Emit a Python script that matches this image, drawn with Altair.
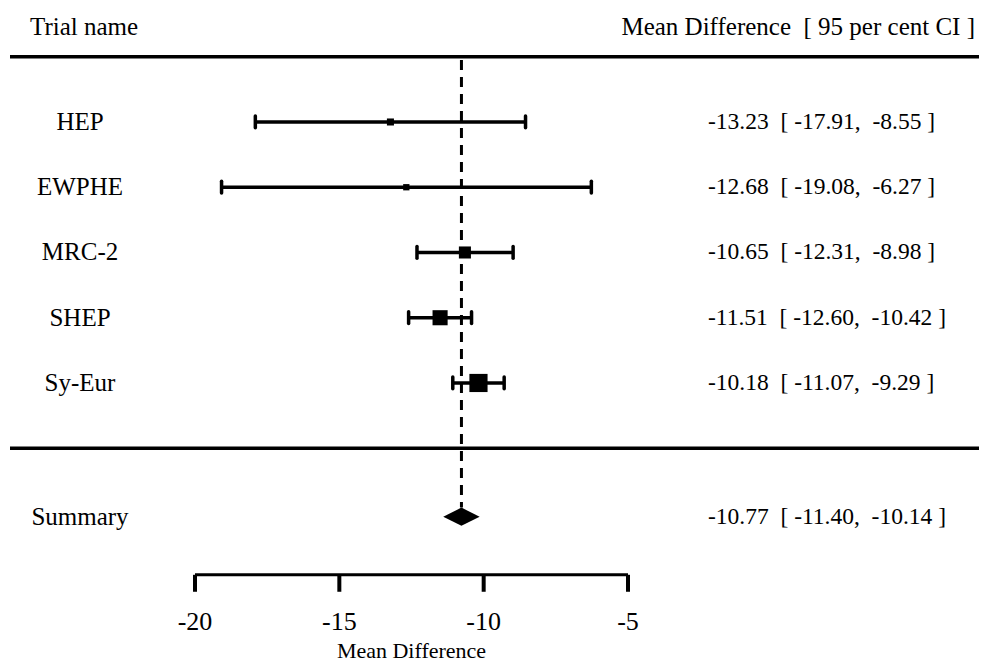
import altair as alt
import pandas as pd

# ---- data ----
trials = ["HEP", "EWPHE", "MRC-2", "SHEP", "Sy-Eur"]
means = [-13.23, -12.68, -10.65, -11.51, -10.18]
lowers = [-17.91, -19.08, -12.31, -12.60, -11.07]
uppers = [-8.55, -6.27, -8.98, -10.42, -9.29]
weights = [0.15, 0.12, 0.44, 0.69, 1.0]   # relative study weight (marker area)

summary_name = "Summary"
summary_mean = -10.77
summary_lower = -11.40
summary_upper = -10.14

tick_values = [-20, -15, -10, -5]
axis_title = "Mean Difference"
header_left = "Trial name"
header_right = "Mean Difference\u00a0\u00a0[ 95 per cent CI ]"

# ---- layout constants ----
W, H = 971, 656
FONT = "Liberation Serif"
FS_HEAD = 25
FS_NAME = 25
FS_NUM = 23.5
FS_TICK = 26
FS_TITLE = 22
rows = [1, 2, 3, 4, 5]
SUM_ROW = 7.05
CAP = 0.09
DIAMOND_H = 0.14


def fmt(m, l, u):
    return f"{m:.2f}\u00a0\u00a0[\u00a0{l:.2f},\u00a0\u00a0{u:.2f}\u00a0]"


studies = pd.DataFrame({
    "name": trials, "mean": means, "lo": lowers, "hi": uppers,
    "w": weights, "row": rows,
    "label": [fmt(m, l, u) for m, l, u in zip(means, lowers, uppers)],
})
studies["ylo"] = studies["row"] - CAP
studies["yhi"] = studies["row"] + CAP

summary_df = pd.DataFrame({
    "name": [summary_name], "row": [SUM_ROW],
    "label": [fmt(summary_mean, summary_lower, summary_upper)],
})

diamond = pd.DataFrame({
    "x": [summary_lower, summary_mean, summary_upper],
    "y": [SUM_ROW, SUM_ROW - DIAMOND_H, SUM_ROW],
    "y2": [SUM_ROW, SUM_ROW + DIAMOND_H, SUM_ROW],
})

xs = alt.Scale(domain=[-26.478, 7.159], nice=False, zero=False)
ys = alt.Scale(domain=[-0.747, 9.307], nice=False, zero=False, reverse=True)


def X(f):
    return alt.X(f, type="quantitative", scale=xs, axis=None)


def Y(f):
    return alt.Y(f, type="quantitative", scale=ys, axis=None)


def txt(size, align="center", baseline="middle"):
    return dict(font=FONT, fontSize=size, align=align, baseline=baseline, color="black")


base = alt.Chart(studies)

whisk = base.mark_rule(color="black", strokeWidth=3.5).encode(
    x=X("lo"), x2="hi", y=Y("row"))
caps_lo = base.mark_rule(color="black", strokeWidth=3.5, strokeCap="round").encode(
    x=X("lo"), y=Y("ylo"), y2="yhi")
caps_hi = base.mark_rule(color="black", strokeWidth=3.5, strokeCap="round").encode(
    x=X("hi"), y=Y("ylo"), y2="yhi")
boxes = base.mark_point(shape="square", filled=True, color="black", opacity=1).encode(
    x=X("mean"), y=Y("row"),
    size=alt.Size("w:Q", scale=alt.Scale(domain=[0, 1], range=[0, 330]), legend=None))

names = base.mark_text(**txt(FS_NAME, "center")).encode(x=alt.value(72), y=Y("row"), text="name:N")
labels = base.mark_text(**txt(FS_NUM, "left")).encode(x=alt.value(700), y=Y("row"), text="label:N")

sbase = alt.Chart(summary_df)
snames = sbase.mark_text(**txt(FS_NAME, "center")).encode(x=alt.value(72), y=Y("row"), text="name:N")
slabels = sbase.mark_text(**txt(FS_NUM, "left")).encode(x=alt.value(700), y=Y("row"), text="label:N")

diam = alt.Chart(diamond).mark_area(color="black", opacity=1, orient="vertical").encode(
    x=X("x"), y=Y("y"), y2="y2")

ref = alt.Chart(pd.DataFrame({"x": [summary_mean], "y": [0.05], "y2": [SUM_ROW - DIAMOND_H]})).mark_rule(
    color="black", strokeWidth=3, strokeDash=[10, 7]).encode(x=X("x"), y=Y("y"), y2="y2")

seps = alt.Chart(pd.DataFrame({"y": [0, 6]})).mark_rule(color="black", strokeWidth=3.5).encode(
    y=Y("y"), x=alt.value(2), x2=alt.value(W))

headers = alt.Chart(pd.DataFrame({"t": [header_left], "y": [-0.46]})).mark_text(**txt(FS_HEAD, "left")).encode(
    x=alt.value(22), y=Y("y"), text="t:N")
headers_r = alt.Chart(pd.DataFrame({"t": [header_right], "y": [-0.46]})).mark_text(**txt(FS_HEAD, "right")).encode(
    x=alt.value(W - 4), y=Y("y"), text="t:N")

AXIS_ROW = 7.94
axdf = pd.DataFrame({"v": tick_values})
axdf["lab"] = axdf["v"].astype(str)
axdf["y"] = AXIS_ROW
axdf["y2"] = AXIS_ROW + 0.26
axdf["ly"] = AXIS_ROW + 0.72
axis_line = alt.Chart(pd.DataFrame({"a": [min(tick_values)], "b": [max(tick_values)], "y": [AXIS_ROW]})).mark_rule(
    color="black", strokeWidth=3).encode(x=X("a"), x2="b", y=Y("y"))
axis_ticks = alt.Chart(axdf).mark_rule(color="black", strokeWidth=4).encode(
    x=X("v"), y=Y("y"), y2="y2")
axis_labels = alt.Chart(axdf).mark_text(**txt(FS_TICK, "center")).encode(
    x=X("v"), y=Y("ly"), text="lab:N")
axis_t = alt.Chart(pd.DataFrame({"t": [axis_title], "x": [sum(tick_values[::3]) / 2], "y": [9.29]})).mark_text(
    **txt(FS_TITLE, "center", "bottom")).encode(x=X("x"), y=Y("y"), text="t:N")

chart = alt.layer(
    seps, ref, whisk, caps_lo, caps_hi, boxes, diam,
    names, labels, snames, slabels, headers, headers_r,
    axis_line, axis_ticks, axis_labels, axis_t,
).properties(
    width=W, height=H, padding=0, autosize=alt.AutoSizeParams(type="none"),
    background="white",
).configure_view(stroke=None)

chart.save("out.html", embed_options={"renderer": "svg", "actions": False})
